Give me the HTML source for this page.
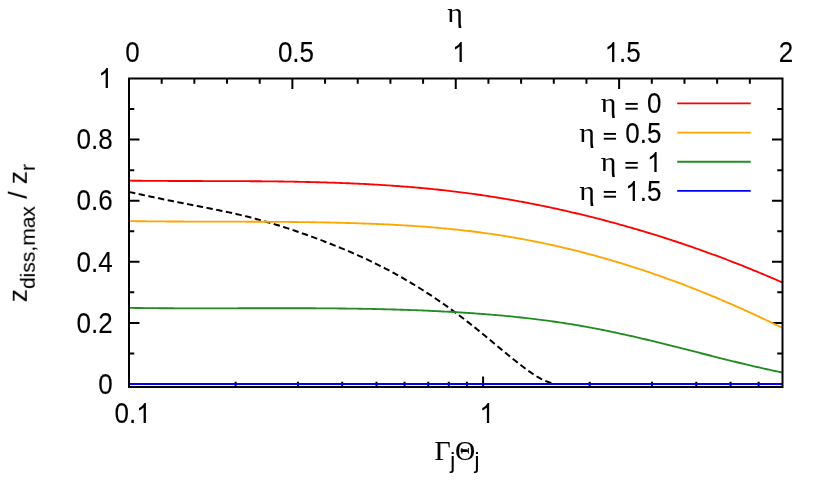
<!DOCTYPE html>
<html><head><meta charset="utf-8"><title>plot</title>
<style>html,body{margin:0;padding:0;background:#fff;}svg{display:block;}text{font-family:"Liberation Sans",sans-serif;fill:#000;}.g{font-family:"Liberation Serif",serif;}.t text{stroke:#000;stroke-width:0.1px;}.t text.g{stroke-width:0.05px;}</style></head><body>
<svg width="830" height="498" viewBox="0 0 830 498">
<rect x="0" y="0" width="830" height="498" fill="#ffffff"/>
<defs><clipPath id="c"><rect x="129.0" y="78.5" width="653.5" height="308.5"/></clipPath></defs>
<path d="M129.0,384.00 h10.5 M782.5,384.00 h-10.5 M129.0,353.45 h5.25 M782.5,353.45 h-5.25 M129.0,322.90 h10.5 M782.5,322.90 h-10.5 M129.0,292.35 h5.25 M782.5,292.35 h-5.25 M129.0,261.80 h10.5 M782.5,261.80 h-10.5 M129.0,231.25 h5.25 M782.5,231.25 h-5.25 M129.0,200.70 h10.5 M782.5,200.70 h-10.5 M129.0,170.15 h5.25 M782.5,170.15 h-5.25 M129.0,139.60 h10.5 M782.5,139.60 h-10.5 M129.0,109.05 h5.25 M782.5,109.05 h-5.25 M161.68,78.5 v5.25 M194.35,78.5 v5.25 M227.02,78.5 v5.25 M259.70,78.5 v5.25 M292.38,78.5 v10.5 M325.05,78.5 v5.25 M357.73,78.5 v5.25 M390.40,78.5 v5.25 M423.07,78.5 v5.25 M455.75,78.5 v10.5 M488.43,78.5 v5.25 M521.10,78.5 v5.25 M553.78,78.5 v5.25 M586.45,78.5 v5.25 M619.12,78.5 v10.5 M651.80,78.5 v5.25 M684.48,78.5 v5.25 M717.15,78.5 v5.25 M749.82,78.5 v5.25 M235.59,387.0 v-5.25 M297.95,387.0 v-5.25 M342.19,387.0 v-5.25 M376.51,387.0 v-5.25 M404.54,387.0 v-5.25 M428.25,387.0 v-5.25 M448.78,387.0 v-5.25 M466.90,387.0 v-5.25 M483.10,387.0 v-10.5 M589.69,387.0 v-5.25 M652.05,387.0 v-5.25 M696.29,387.0 v-5.25 M730.61,387.0 v-5.25 M758.64,387.0 v-5.25" stroke="#000" stroke-width="2.0" fill="none"/>
<g clip-path="url(#c)" fill="none" stroke-width="1.85" stroke-linejoin="round">
<path d="M129.0,191.95 L131.0,192.39 L133.0,192.82 L135.0,193.26 L137.0,193.69 L139.0,194.12 L141.0,194.55 L143.0,194.97 L145.0,195.40 L147.0,195.83 L149.0,196.25 L151.0,196.67 L153.0,197.09 L155.0,197.51 L157.0,197.93 L159.0,198.34 L161.0,198.76 L163.0,199.17 L165.0,199.58 L167.0,199.99 L169.0,200.40 L171.0,200.81 L173.0,201.21 L175.0,201.61 L177.0,202.02 L179.0,202.41 L181.0,202.81 L183.0,203.21 L185.0,203.60 L187.0,204.00 L189.0,204.39 L191.0,204.78 L193.0,205.17 L195.0,205.55 L197.0,205.94 L199.0,206.32 L201.0,206.71 L203.0,207.10 L205.0,207.48 L207.0,207.87 L209.0,208.26 L211.0,208.66 L213.0,209.05 L215.0,209.45 L217.0,209.86 L219.0,210.26 L221.0,210.68 L223.0,211.09 L225.0,211.52 L227.0,211.95 L229.0,212.38 L231.0,212.82 L233.0,213.27 L235.0,213.72 L237.0,214.18 L239.0,214.64 L241.0,215.12 L243.0,215.60 L245.0,216.08 L247.0,216.58 L249.0,217.08 L251.0,217.59 L253.0,218.11 L255.0,218.64 L257.0,219.17 L259.0,219.72 L261.0,220.27 L263.0,220.83 L265.0,221.39 L267.0,221.97 L269.0,222.55 L271.0,223.14 L273.0,223.74 L275.0,224.35 L277.0,224.96 L279.0,225.58 L281.0,226.21 L283.0,226.84 L285.0,227.49 L287.0,228.14 L289.0,228.79 L291.0,229.45 L293.0,230.12 L295.0,230.80 L297.0,231.48 L299.0,232.17 L301.0,232.87 L303.0,233.57 L305.0,234.28 L307.0,235.00 L309.0,235.72 L311.0,236.45 L313.0,237.18 L315.0,237.92 L317.0,238.67 L319.0,239.42 L321.0,240.17 L323.0,240.94 L325.0,241.70 L327.0,242.48 L329.0,243.26 L331.0,244.04 L333.0,244.83 L335.0,245.63 L337.0,246.44 L339.0,247.25 L341.0,248.07 L343.0,248.89 L345.0,249.73 L347.0,250.57 L349.0,251.42 L351.0,252.27 L353.0,253.14 L355.0,254.02 L357.0,254.90 L359.0,255.79 L361.0,256.70 L363.0,257.61 L365.0,258.53 L367.0,259.46 L369.0,260.40 L371.0,261.36 L373.0,262.32 L375.0,263.30 L377.0,264.28 L379.0,265.28 L381.0,266.29 L383.0,267.31 L385.0,268.34 L387.0,269.38 L389.0,270.44 L391.0,271.51 L393.0,272.59 L395.0,273.68 L397.0,274.78 L399.0,275.90 L401.0,277.02 L403.0,278.16 L405.0,279.32 L407.0,280.48 L409.0,281.66 L411.0,282.85 L413.0,284.05 L415.0,285.26 L417.0,286.49 L419.0,287.73 L421.0,288.98 L423.0,290.25 L425.0,291.53 L427.0,292.82 L429.0,294.12 L431.0,295.44 L433.0,296.77 L435.0,298.11 L437.0,299.47 L439.0,300.84 L441.0,302.22 L443.0,303.62 L445.0,305.02 L447.0,306.44 L449.0,307.88 L451.0,309.32 L453.0,310.78 L455.0,312.25 L457.0,313.74 L459.0,315.23 L461.0,316.74 L463.0,318.26 L465.0,319.80 L467.0,321.34 L469.0,322.90 L471.0,324.47 L473.0,326.06 L475.0,327.65 L477.0,329.26 L479.0,330.88 L481.0,332.51 L483.0,334.15 L485.0,335.80 L487.0,337.45 L489.0,339.11 L491.0,340.78 L493.0,342.44 L495.0,344.11 L497.0,345.78 L499.0,347.45 L501.0,349.11 L503.0,350.77 L505.0,352.42 L507.0,354.06 L509.0,355.70 L511.0,357.32 L513.0,358.94 L515.0,360.54 L517.0,362.12 L519.0,363.69 L521.0,365.24 L523.0,366.77 L525.0,368.29 L527.0,369.77 L529.0,371.22 L531.0,372.62 L533.0,373.98 L535.0,375.28 L537.0,376.52 L539.0,377.69 L541.0,378.78 L543.0,379.79 L545.0,380.70 L547.0,381.52 L549.0,382.24 L551.0,382.84 L553.0,383.32 L555.0,383.68 L557.0,383.90 L558.0,383.96 L782.5,384.0" stroke="#000" stroke-width="2" stroke-dasharray="6.38 3.505"/>
<path d="M129.0,180.66 L131.0,180.68 L133.0,180.71 L135.0,180.73 L137.0,180.75 L139.0,180.77 L141.0,180.79 L143.0,180.80 L145.0,180.82 L147.0,180.84 L149.0,180.85 L151.0,180.86 L153.0,180.88 L155.0,180.89 L157.0,180.90 L159.0,180.91 L161.0,180.92 L163.0,180.93 L165.0,180.94 L167.0,180.95 L169.0,180.96 L171.0,180.97 L173.0,180.97 L175.0,180.98 L177.0,180.99 L179.0,180.99 L181.0,181.00 L183.0,181.01 L185.0,181.01 L187.0,181.02 L189.0,181.02 L191.0,181.02 L193.0,181.03 L195.0,181.03 L197.0,181.04 L199.0,181.04 L201.0,181.04 L203.0,181.05 L205.0,181.05 L207.0,181.06 L209.0,181.06 L211.0,181.06 L213.0,181.07 L215.0,181.07 L217.0,181.08 L219.0,181.08 L221.0,181.09 L223.0,181.09 L225.0,181.10 L227.0,181.10 L229.0,181.11 L231.0,181.12 L233.0,181.12 L235.0,181.13 L237.0,181.14 L239.0,181.15 L241.0,181.16 L243.0,181.17 L245.0,181.18 L247.0,181.19 L249.0,181.20 L251.0,181.21 L253.0,181.23 L255.0,181.24 L257.0,181.25 L259.0,181.27 L261.0,181.29 L263.0,181.30 L265.0,181.32 L267.0,181.34 L269.0,181.36 L271.0,181.38 L273.0,181.40 L275.0,181.43 L277.0,181.45 L279.0,181.48 L281.0,181.50 L283.0,181.53 L285.0,181.56 L287.0,181.59 L289.0,181.62 L291.0,181.65 L293.0,181.69 L295.0,181.72 L297.0,181.76 L299.0,181.80 L301.0,181.84 L303.0,181.88 L305.0,181.92 L307.0,181.96 L309.0,182.01 L311.0,182.06 L313.0,182.10 L315.0,182.15 L317.0,182.21 L319.0,182.26 L321.0,182.32 L323.0,182.37 L325.0,182.43 L327.0,182.49 L329.0,182.56 L331.0,182.62 L333.0,182.69 L335.0,182.76 L337.0,182.83 L339.0,182.90 L341.0,182.97 L343.0,183.05 L345.0,183.13 L347.0,183.21 L349.0,183.29 L351.0,183.38 L353.0,183.47 L355.0,183.56 L357.0,183.65 L359.0,183.74 L361.0,183.84 L363.0,183.94 L365.0,184.04 L367.0,184.14 L369.0,184.25 L371.0,184.36 L373.0,184.47 L375.0,184.58 L377.0,184.70 L379.0,184.82 L381.0,184.94 L383.0,185.07 L385.0,185.19 L387.0,185.32 L389.0,185.45 L391.0,185.59 L393.0,185.73 L395.0,185.87 L397.0,186.01 L399.0,186.16 L401.0,186.31 L403.0,186.46 L405.0,186.62 L407.0,186.78 L409.0,186.94 L411.0,187.10 L413.0,187.27 L415.0,187.44 L417.0,187.62 L419.0,187.79 L421.0,187.97 L423.0,188.16 L425.0,188.35 L427.0,188.54 L429.0,188.73 L431.0,188.93 L433.0,189.13 L435.0,189.33 L437.0,189.54 L439.0,189.75 L441.0,189.97 L443.0,190.18 L445.0,190.41 L447.0,190.63 L449.0,190.86 L451.0,191.09 L453.0,191.33 L455.0,191.57 L457.0,191.81 L459.0,192.06 L461.0,192.31 L463.0,192.57 L465.0,192.83 L467.0,193.09 L469.0,193.36 L471.0,193.63 L473.0,193.90 L475.0,194.18 L477.0,194.47 L479.0,194.75 L481.0,195.04 L483.0,195.34 L485.0,195.64 L487.0,195.94 L489.0,196.24 L491.0,196.55 L493.0,196.87 L495.0,197.18 L497.0,197.50 L499.0,197.83 L501.0,198.16 L503.0,198.49 L505.0,198.83 L507.0,199.17 L509.0,199.51 L511.0,199.86 L513.0,200.21 L515.0,200.57 L517.0,200.93 L519.0,201.29 L521.0,201.66 L523.0,202.03 L525.0,202.40 L527.0,202.78 L529.0,203.16 L531.0,203.55 L533.0,203.94 L535.0,204.33 L537.0,204.73 L539.0,205.13 L541.0,205.54 L543.0,205.95 L545.0,206.36 L547.0,206.77 L549.0,207.19 L551.0,207.62 L553.0,208.05 L555.0,208.48 L557.0,208.91 L559.0,209.35 L561.0,209.80 L563.0,210.24 L565.0,210.69 L567.0,211.15 L569.0,211.61 L571.0,212.07 L573.0,212.53 L575.0,213.00 L577.0,213.48 L579.0,213.95 L581.0,214.43 L583.0,214.92 L585.0,215.41 L587.0,215.90 L589.0,216.39 L591.0,216.89 L593.0,217.40 L595.0,217.90 L597.0,218.41 L599.0,218.93 L601.0,219.45 L603.0,219.97 L605.0,220.49 L607.0,221.02 L609.0,221.56 L611.0,222.09 L613.0,222.63 L615.0,223.18 L617.0,223.73 L619.0,224.28 L621.0,224.83 L623.0,225.39 L625.0,225.96 L627.0,226.52 L629.0,227.09 L631.0,227.67 L633.0,228.25 L635.0,228.83 L637.0,229.41 L639.0,230.00 L641.0,230.59 L643.0,231.19 L645.0,231.79 L647.0,232.40 L649.0,233.00 L651.0,233.61 L653.0,234.23 L655.0,234.85 L657.0,235.47 L659.0,236.10 L661.0,236.73 L663.0,237.36 L665.0,238.00 L667.0,238.65 L669.0,239.29 L671.0,239.94 L673.0,240.60 L675.0,241.25 L677.0,241.92 L679.0,242.58 L681.0,243.25 L683.0,243.92 L685.0,244.60 L687.0,245.28 L689.0,245.97 L691.0,246.66 L693.0,247.35 L695.0,248.05 L697.0,248.75 L699.0,249.45 L701.0,250.16 L703.0,250.87 L705.0,251.59 L707.0,252.31 L709.0,253.04 L711.0,253.77 L713.0,254.50 L715.0,255.24 L717.0,255.98 L719.0,256.72 L721.0,257.47 L723.0,258.23 L725.0,258.98 L727.0,259.74 L729.0,260.51 L731.0,261.28 L733.0,262.05 L735.0,262.83 L737.0,263.61 L739.0,264.40 L741.0,265.19 L743.0,265.98 L745.0,266.78 L747.0,267.58 L749.0,268.39 L751.0,269.20 L753.0,270.02 L755.0,270.84 L757.0,271.66 L759.0,272.49 L761.0,273.32 L763.0,274.16 L765.0,275.00 L767.0,275.84 L769.0,276.69 L771.0,277.54 L773.0,278.40 L775.0,279.26 L777.0,280.13 L779.0,281.00 L781.0,281.87 L782.5,282.53" stroke="#ff0000"/>
<path d="M129.0,221.10 L131.0,221.13 L133.0,221.16 L135.0,221.18 L137.0,221.21 L139.0,221.23 L141.0,221.25 L143.0,221.27 L145.0,221.29 L147.0,221.31 L149.0,221.33 L151.0,221.35 L153.0,221.37 L155.0,221.38 L157.0,221.40 L159.0,221.41 L161.0,221.43 L163.0,221.44 L165.0,221.45 L167.0,221.47 L169.0,221.48 L171.0,221.49 L173.0,221.50 L175.0,221.51 L177.0,221.52 L179.0,221.53 L181.0,221.53 L183.0,221.54 L185.0,221.55 L187.0,221.56 L189.0,221.56 L191.0,221.57 L193.0,221.58 L195.0,221.58 L197.0,221.59 L199.0,221.59 L201.0,221.60 L203.0,221.60 L205.0,221.61 L207.0,221.61 L209.0,221.61 L211.0,221.62 L213.0,221.62 L215.0,221.63 L217.0,221.63 L219.0,221.63 L221.0,221.64 L223.0,221.64 L225.0,221.65 L227.0,221.65 L229.0,221.66 L231.0,221.66 L233.0,221.66 L235.0,221.67 L237.0,221.67 L239.0,221.68 L241.0,221.68 L243.0,221.69 L245.0,221.70 L247.0,221.70 L249.0,221.71 L251.0,221.72 L253.0,221.72 L255.0,221.73 L257.0,221.74 L259.0,221.75 L261.0,221.76 L263.0,221.77 L265.0,221.78 L267.0,221.79 L269.0,221.80 L271.0,221.81 L273.0,221.82 L275.0,221.84 L277.0,221.85 L279.0,221.87 L281.0,221.88 L283.0,221.90 L285.0,221.92 L287.0,221.93 L289.0,221.95 L291.0,221.97 L293.0,221.99 L295.0,222.01 L297.0,222.04 L299.0,222.06 L301.0,222.08 L303.0,222.11 L305.0,222.13 L307.0,222.16 L309.0,222.19 L311.0,222.22 L313.0,222.25 L315.0,222.28 L317.0,222.31 L319.0,222.35 L321.0,222.38 L323.0,222.42 L325.0,222.46 L327.0,222.50 L329.0,222.54 L331.0,222.58 L333.0,222.62 L335.0,222.67 L337.0,222.71 L339.0,222.76 L341.0,222.81 L343.0,222.86 L345.0,222.91 L347.0,222.96 L349.0,223.02 L351.0,223.08 L353.0,223.13 L355.0,223.19 L357.0,223.26 L359.0,223.32 L361.0,223.39 L363.0,223.46 L365.0,223.53 L367.0,223.60 L369.0,223.67 L371.0,223.75 L373.0,223.83 L375.0,223.91 L377.0,223.99 L379.0,224.08 L381.0,224.16 L383.0,224.25 L385.0,224.35 L387.0,224.44 L389.0,224.54 L391.0,224.64 L393.0,224.74 L395.0,224.85 L397.0,224.96 L399.0,225.07 L401.0,225.18 L403.0,225.30 L405.0,225.42 L407.0,225.54 L409.0,225.66 L411.0,225.79 L413.0,225.92 L415.0,226.06 L417.0,226.20 L419.0,226.34 L421.0,226.48 L423.0,226.63 L425.0,226.78 L427.0,226.94 L429.0,227.09 L431.0,227.25 L433.0,227.42 L435.0,227.59 L437.0,227.76 L439.0,227.94 L441.0,228.11 L443.0,228.30 L445.0,228.48 L447.0,228.67 L449.0,228.87 L451.0,229.07 L453.0,229.27 L455.0,229.48 L457.0,229.69 L459.0,229.90 L461.0,230.12 L463.0,230.34 L465.0,230.57 L467.0,230.80 L469.0,231.04 L471.0,231.28 L473.0,231.52 L475.0,231.77 L477.0,232.02 L479.0,232.28 L481.0,232.54 L483.0,232.81 L485.0,233.08 L487.0,233.36 L489.0,233.64 L491.0,233.92 L493.0,234.21 L495.0,234.51 L497.0,234.81 L499.0,235.12 L501.0,235.43 L503.0,235.74 L505.0,236.06 L507.0,236.39 L509.0,236.72 L511.0,237.06 L513.0,237.40 L515.0,237.74 L517.0,238.09 L519.0,238.45 L521.0,238.81 L523.0,239.18 L525.0,239.55 L527.0,239.92 L529.0,240.31 L531.0,240.69 L533.0,241.08 L535.0,241.48 L537.0,241.88 L539.0,242.29 L541.0,242.70 L543.0,243.12 L545.0,243.54 L547.0,243.96 L549.0,244.39 L551.0,244.83 L553.0,245.27 L555.0,245.72 L557.0,246.17 L559.0,246.63 L561.0,247.09 L563.0,247.55 L565.0,248.03 L567.0,248.50 L569.0,248.98 L571.0,249.47 L573.0,249.96 L575.0,250.46 L577.0,250.96 L579.0,251.46 L581.0,251.97 L583.0,252.49 L585.0,253.01 L587.0,253.54 L589.0,254.07 L591.0,254.60 L593.0,255.14 L595.0,255.69 L597.0,256.24 L599.0,256.79 L601.0,257.35 L603.0,257.92 L605.0,258.49 L607.0,259.06 L609.0,259.64 L611.0,260.22 L613.0,260.81 L615.0,261.41 L617.0,262.01 L619.0,262.61 L621.0,263.22 L623.0,263.83 L625.0,264.45 L627.0,265.07 L629.0,265.70 L631.0,266.33 L633.0,266.97 L635.0,267.61 L637.0,268.26 L639.0,268.91 L641.0,269.57 L643.0,270.23 L645.0,270.90 L647.0,271.57 L649.0,272.24 L651.0,272.93 L653.0,273.61 L655.0,274.30 L657.0,275.00 L659.0,275.70 L661.0,276.40 L663.0,277.11 L665.0,277.82 L667.0,278.54 L669.0,279.27 L671.0,280.00 L673.0,280.73 L675.0,281.47 L677.0,282.21 L679.0,282.96 L681.0,283.71 L683.0,284.47 L685.0,285.23 L687.0,285.99 L689.0,286.76 L691.0,287.54 L693.0,288.32 L695.0,289.11 L697.0,289.90 L699.0,290.69 L701.0,291.49 L703.0,292.29 L705.0,293.10 L707.0,293.92 L709.0,294.73 L711.0,295.56 L713.0,296.38 L715.0,297.21 L717.0,298.05 L719.0,298.89 L721.0,299.74 L723.0,300.59 L725.0,301.44 L727.0,302.30 L729.0,303.17 L731.0,304.04 L733.0,304.91 L735.0,305.79 L737.0,306.67 L739.0,307.56 L741.0,308.45 L743.0,309.35 L745.0,310.25 L747.0,311.16 L749.0,312.07 L751.0,312.98 L753.0,313.90 L755.0,314.82 L757.0,315.75 L759.0,316.69 L761.0,317.62 L763.0,318.57 L765.0,319.51 L767.0,320.47 L769.0,321.42 L771.0,322.38 L773.0,323.35 L775.0,324.32 L777.0,325.29 L779.0,326.27 L781.0,327.25 L782.5,327.99" stroke="#ffa500"/>
<path d="M129.0,307.88 L131.0,307.91 L133.0,307.93 L135.0,307.96 L137.0,307.99 L139.0,308.01 L141.0,308.04 L143.0,308.06 L145.0,308.08 L147.0,308.10 L149.0,308.12 L151.0,308.14 L153.0,308.16 L155.0,308.18 L157.0,308.19 L159.0,308.21 L161.0,308.22 L163.0,308.23 L165.0,308.25 L167.0,308.26 L169.0,308.27 L171.0,308.28 L173.0,308.29 L175.0,308.30 L177.0,308.30 L179.0,308.31 L181.0,308.32 L183.0,308.32 L185.0,308.33 L187.0,308.33 L189.0,308.34 L191.0,308.34 L193.0,308.34 L195.0,308.34 L197.0,308.34 L199.0,308.34 L201.0,308.35 L203.0,308.35 L205.0,308.34 L207.0,308.34 L209.0,308.34 L211.0,308.34 L213.0,308.34 L215.0,308.34 L217.0,308.33 L219.0,308.33 L221.0,308.33 L223.0,308.32 L225.0,308.32 L227.0,308.32 L229.0,308.31 L231.0,308.31 L233.0,308.30 L235.0,308.30 L237.0,308.30 L239.0,308.29 L241.0,308.29 L243.0,308.28 L245.0,308.28 L247.0,308.27 L249.0,308.27 L251.0,308.26 L253.0,308.26 L255.0,308.26 L257.0,308.25 L259.0,308.25 L261.0,308.24 L263.0,308.24 L265.0,308.24 L267.0,308.23 L269.0,308.23 L271.0,308.23 L273.0,308.23 L275.0,308.22 L277.0,308.22 L279.0,308.22 L281.0,308.22 L283.0,308.22 L285.0,308.22 L287.0,308.22 L289.0,308.22 L291.0,308.22 L293.0,308.23 L295.0,308.23 L297.0,308.23 L299.0,308.24 L301.0,308.24 L303.0,308.24 L305.0,308.25 L307.0,308.26 L309.0,308.26 L311.0,308.27 L313.0,308.28 L315.0,308.29 L317.0,308.30 L319.0,308.31 L321.0,308.32 L323.0,308.33 L325.0,308.35 L327.0,308.36 L329.0,308.38 L331.0,308.39 L333.0,308.41 L335.0,308.43 L337.0,308.45 L339.0,308.47 L341.0,308.49 L343.0,308.51 L345.0,308.53 L347.0,308.56 L349.0,308.58 L351.0,308.61 L353.0,308.64 L355.0,308.67 L357.0,308.70 L359.0,308.73 L361.0,308.76 L363.0,308.80 L365.0,308.83 L367.0,308.87 L369.0,308.91 L371.0,308.94 L373.0,308.99 L375.0,309.03 L377.0,309.07 L379.0,309.12 L381.0,309.16 L383.0,309.21 L385.0,309.26 L387.0,309.31 L389.0,309.36 L391.0,309.42 L393.0,309.47 L395.0,309.53 L397.0,309.59 L399.0,309.65 L401.0,309.71 L403.0,309.78 L405.0,309.84 L407.0,309.91 L409.0,309.98 L411.0,310.05 L413.0,310.13 L415.0,310.20 L417.0,310.28 L419.0,310.36 L421.0,310.44 L423.0,310.52 L425.0,310.60 L427.0,310.69 L429.0,310.78 L431.0,310.87 L433.0,310.96 L435.0,311.06 L437.0,311.15 L439.0,311.25 L441.0,311.35 L443.0,311.46 L445.0,311.56 L447.0,311.67 L449.0,311.78 L451.0,311.89 L453.0,312.00 L455.0,312.12 L457.0,312.24 L459.0,312.36 L461.0,312.48 L463.0,312.61 L465.0,312.74 L467.0,312.87 L469.0,313.00 L471.0,313.14 L473.0,313.27 L475.0,313.42 L477.0,313.56 L479.0,313.71 L481.0,313.85 L483.0,314.01 L485.0,314.16 L487.0,314.32 L489.0,314.48 L491.0,314.64 L493.0,314.81 L495.0,314.98 L497.0,315.15 L499.0,315.33 L501.0,315.51 L503.0,315.69 L505.0,315.88 L507.0,316.07 L509.0,316.26 L511.0,316.45 L513.0,316.65 L515.0,316.86 L517.0,317.06 L519.0,317.27 L521.0,317.49 L523.0,317.71 L525.0,317.93 L527.0,318.15 L529.0,318.38 L531.0,318.62 L533.0,318.85 L535.0,319.10 L537.0,319.34 L539.0,319.59 L541.0,319.84 L543.0,320.10 L545.0,320.36 L547.0,320.63 L549.0,320.90 L551.0,321.18 L553.0,321.46 L555.0,321.74 L557.0,322.03 L559.0,322.32 L561.0,322.62 L563.0,322.92 L565.0,323.23 L567.0,323.54 L569.0,323.86 L571.0,324.18 L573.0,324.51 L575.0,324.84 L577.0,325.18 L579.0,325.52 L581.0,325.87 L583.0,326.22 L585.0,326.57 L587.0,326.94 L589.0,327.30 L591.0,327.68 L593.0,328.05 L595.0,328.43 L597.0,328.82 L599.0,329.21 L601.0,329.61 L603.0,330.01 L605.0,330.41 L607.0,330.82 L609.0,331.23 L611.0,331.65 L613.0,332.07 L615.0,332.49 L617.0,332.92 L619.0,333.35 L621.0,333.79 L623.0,334.23 L625.0,334.67 L627.0,335.11 L629.0,335.56 L631.0,336.02 L633.0,336.47 L635.0,336.93 L637.0,337.39 L639.0,337.86 L641.0,338.33 L643.0,338.80 L645.0,339.27 L647.0,339.74 L649.0,340.22 L651.0,340.70 L653.0,341.19 L655.0,341.67 L657.0,342.16 L659.0,342.65 L661.0,343.14 L663.0,343.63 L665.0,344.13 L667.0,344.62 L669.0,345.12 L671.0,345.62 L673.0,346.12 L675.0,346.62 L677.0,347.13 L679.0,347.63 L681.0,348.14 L683.0,348.65 L685.0,349.15 L687.0,349.66 L689.0,350.17 L691.0,350.68 L693.0,351.19 L695.0,351.70 L697.0,352.21 L699.0,352.72 L701.0,353.23 L703.0,353.74 L705.0,354.25 L707.0,354.76 L709.0,355.27 L711.0,355.77 L713.0,356.28 L715.0,356.79 L717.0,357.29 L719.0,357.79 L721.0,358.30 L723.0,358.80 L725.0,359.30 L727.0,359.80 L729.0,360.29 L731.0,360.79 L733.0,361.28 L735.0,361.77 L737.0,362.26 L739.0,362.74 L741.0,363.23 L743.0,363.71 L745.0,364.19 L747.0,364.66 L749.0,365.14 L751.0,365.61 L753.0,366.07 L755.0,366.54 L757.0,367.00 L759.0,367.46 L761.0,367.91 L763.0,368.36 L765.0,368.81 L767.0,369.25 L769.0,369.69 L771.0,370.12 L773.0,370.55 L775.0,370.98 L777.0,371.40 L779.0,371.82 L781.0,372.23 L782.5,372.54" stroke="#228b22"/>
<path d="M129.0,384.0 L782.5,384.0" stroke="#0000ff"/>
</g>
<rect x="129.0" y="78.5" width="653.5" height="308.5" fill="none" stroke="#000" stroke-width="2"/>
<g class="t" style="filter:grayscale(1)">
<text transform="translate(98.24,394.00) scale(1,1.1)" font-size="26" xml:space="preserve">0</text>
<text transform="translate(76.56,333.00) scale(1,1.1)" font-size="26" xml:space="preserve">0.2</text>
<text transform="translate(76.56,272.00) scale(1,1.1)" font-size="26" xml:space="preserve">0.4</text>
<text transform="translate(76.56,210.00) scale(1,1.1)" font-size="26" xml:space="preserve">0.6</text>
<text transform="translate(76.56,149.00) scale(1,1.1)" font-size="26" xml:space="preserve">0.8</text>
<path transform="translate(98.24,88.00) scale(26,-27.685)" d="M0.3726,0 L0.2847,0 L0.2847,0.5601 Q0.2529,0.5298 0.2014,0.4995 Q0.1499,0.4692 0.1089,0.4541 L0.1089,0.5391 Q0.1826,0.5737 0.2378,0.623 Q0.293,0.6724 0.3159,0.7188 L0.3726,0.7188 Z" fill="#000"/>
<text transform="translate(125.37,62.00) scale(1,1.1)" font-size="26" xml:space="preserve">0</text>
<text transform="translate(277.91,62.00) scale(1,1.1)" font-size="26" xml:space="preserve">0.5</text>
<path transform="translate(452.12,62.00) scale(26,-27.685)" d="M0.3726,0 L0.2847,0 L0.2847,0.5601 Q0.2529,0.5298 0.2014,0.4995 Q0.1499,0.4692 0.1089,0.4541 L0.1089,0.5391 Q0.1826,0.5737 0.2378,0.623 Q0.293,0.6724 0.3159,0.7188 L0.3726,0.7188 Z" fill="#000"/>
<path transform="translate(604.65,62.00) scale(26,-27.685)" d="M0.3726,0 L0.2847,0 L0.2847,0.5601 Q0.2529,0.5298 0.2014,0.4995 Q0.1499,0.4692 0.1089,0.4541 L0.1089,0.5391 Q0.1826,0.5737 0.2378,0.623 Q0.293,0.6724 0.3159,0.7188 L0.3726,0.7188 Z" fill="#000"/><text transform="translate(619.11,62.00) scale(1,1.1)" font-size="26" xml:space="preserve">.5</text>
<text transform="translate(778.87,62.00) scale(1,1.1)" font-size="26" xml:space="preserve">2</text>
<text transform="translate(114.53,423.00) scale(1,1.1)" font-size="26" xml:space="preserve">0.</text><path transform="translate(136.21,423.00) scale(26,-27.685)" d="M0.3726,0 L0.2847,0 L0.2847,0.5601 Q0.2529,0.5298 0.2014,0.4995 Q0.1499,0.4692 0.1089,0.4541 L0.1089,0.5391 Q0.1826,0.5737 0.2378,0.623 Q0.293,0.6724 0.3159,0.7188 L0.3726,0.7188 Z" fill="#000"/>
<path transform="translate(479.47,423.00) scale(26,-27.685)" d="M0.3726,0 L0.2847,0 L0.2847,0.5601 Q0.2529,0.5298 0.2014,0.4995 Q0.1499,0.4692 0.1089,0.4541 L0.1089,0.5391 Q0.1826,0.5737 0.2378,0.623 Q0.293,0.6724 0.3159,0.7188 L0.3726,0.7188 Z" fill="#000"/>
<text transform="translate(455.20,21.60) scale(1.07,0.99)" font-size="28" text-anchor="middle" class="g">η</text>
<text transform="translate(456.00,460.00)" font-size="26" text-anchor="middle"><tspan class="g" font-size="28" dx="0.9">Γ</tspan><tspan font-size="22.3" dy="7.5" dx="-0.3">j</tspan><tspan class="g" font-size="28" dy="-7.5" dx="-0.4">Θ</tspan><tspan font-size="22.3" dy="7.5" dx="-0.7">j</tspan></text>
<rect x="460.7" y="449.2" width="6.2" height="2.8" fill="#000"/>
<text transform="translate(26.80,233.10) rotate(-90) scale(1.012,1.0)" font-size="26" text-anchor="middle">z<tspan font-size="20.8" dy="7.5">diss,max</tspan><tspan dy="-7.5"> / z</tspan><tspan font-size="20.8" dy="7.5">r</tspan></text>
<rect x="625.44" y="102.95" width="12.27" height="1.9" fill="#000"/><rect x="625.44" y="107.75" width="12.27" height="1.9" fill="#000"/><text transform="translate(639.72,113.00) scale(1,1.1)" font-size="26" xml:space="preserve"> 0</text>
<text transform="translate(616.50,111.70) scale(1.07,0.99)" font-size="28" text-anchor="end" class="g">η</text>
<rect x="603.76" y="132.95" width="12.27" height="1.9" fill="#000"/><rect x="603.76" y="137.75" width="12.27" height="1.9" fill="#000"/><text transform="translate(618.03,143.00) scale(1,1.1)" font-size="26" xml:space="preserve"> 0.5</text>
<text transform="translate(594.82,141.70) scale(1.07,0.99)" font-size="28" text-anchor="end" class="g">η</text>
<rect x="625.44" y="161.95" width="12.27" height="1.9" fill="#000"/><rect x="625.44" y="166.75" width="12.27" height="1.9" fill="#000"/><path transform="translate(646.94,172.00) scale(26,-27.685)" d="M0.3726,0 L0.2847,0 L0.2847,0.5601 Q0.2529,0.5298 0.2014,0.4995 Q0.1499,0.4692 0.1089,0.4541 L0.1089,0.5391 Q0.1826,0.5737 0.2378,0.623 Q0.293,0.6724 0.3159,0.7188 L0.3726,0.7188 Z" fill="#000"/>
<text transform="translate(616.50,170.70) scale(1.07,0.99)" font-size="28" text-anchor="end" class="g">η</text>
<rect x="603.76" y="190.95" width="12.27" height="1.9" fill="#000"/><rect x="603.76" y="195.75" width="12.27" height="1.9" fill="#000"/><path transform="translate(625.26,201.00) scale(26,-27.685)" d="M0.3726,0 L0.2847,0 L0.2847,0.5601 Q0.2529,0.5298 0.2014,0.4995 Q0.1499,0.4692 0.1089,0.4541 L0.1089,0.5391 Q0.1826,0.5737 0.2378,0.623 Q0.293,0.6724 0.3159,0.7188 L0.3726,0.7188 Z" fill="#000"/><text transform="translate(639.72,201.00) scale(1,1.1)" font-size="26" xml:space="preserve">.5</text>
<text transform="translate(594.82,199.70) scale(1.07,0.99)" font-size="28" text-anchor="end" class="g">η</text>
</g>
<path d="M677.2,103.4 H750.7" stroke="#ff0000" stroke-width="1.85" fill="none"/>
<path d="M677.2,132.6 H750.7" stroke="#ffa500" stroke-width="1.85" fill="none"/>
<path d="M677.2,161.7 H750.7" stroke="#228b22" stroke-width="1.85" fill="none"/>
<path d="M677.2,190.8 H750.7" stroke="#0000ff" stroke-width="1.85" fill="none"/>
</svg></body></html>
